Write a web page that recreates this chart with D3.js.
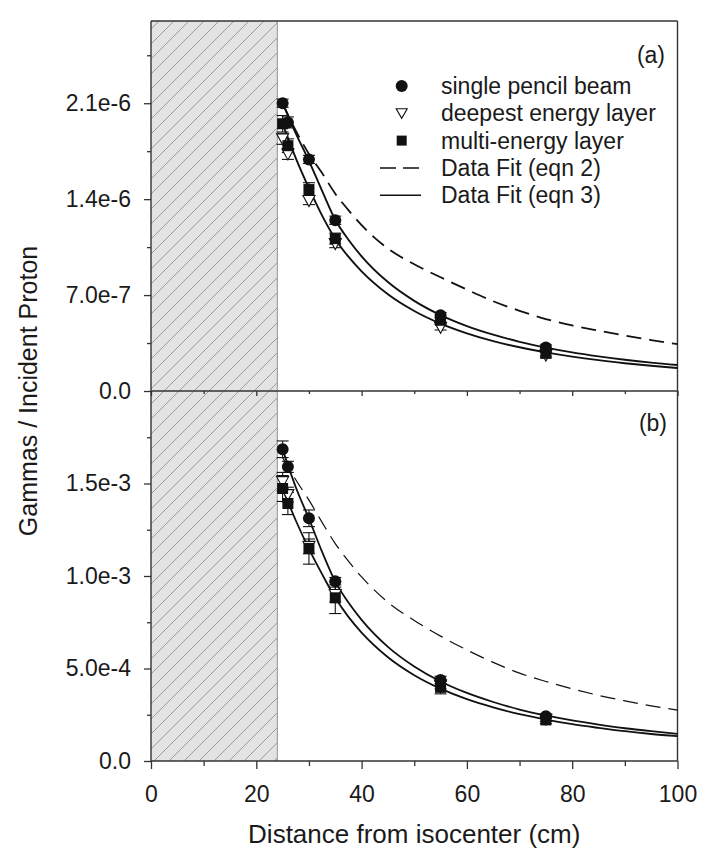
<!DOCTYPE html>
<html><head><meta charset="utf-8">
<script src="https://cdn.jsdelivr.net/npm/d3@7"></script>
<style>
body{margin:0;background:#fff}
text{font-family:"Liberation Sans",Arial,Helvetica,sans-serif;fill:#1a1a1a}
</style>
</head><body>
<svg id="chart" width="714" height="863"></svg>
<script>
// ---------------- DATA ----------------
const pointX = [25, 26, 30, 35, 55, 75];

// Panel (a): gammas per incident proton
const aSingle    = [2.10e-6, 1.96e-6, 1.69e-6, 1.246e-6, 0.553e-6, 0.317e-6];
const aSingleErr = [0.03e-6, 0.04e-6, 0.03e-6, 0.03e-6, 0.02e-6, 0.02e-6];
const aDeep      = [1.84e-6, 1.73e-6, 1.39e-6, 1.076e-6, 0.465e-6, 0.262e-6];
const aDeepErr   = [0.04e-6, 0.04e-6, 0.03e-6, 0.03e-6, 0.02e-6, 0.02e-6];
const aMulti     = [1.95e-6, 1.79e-6, 1.47e-6, 1.112e-6, 0.516e-6, 0.275e-6];
const aMultiErr  = [0.06e-6, 0.05e-6, 0.05e-6, 0.04e-6, 0.02e-6, 0.02e-6];

// Panel (b)
const bSingle    = [1.685e-3, 1.59e-3, 1.312e-3, 0.972e-3, 0.438e-3, 0.242e-3];
const bSingleErr = [0.045e-3, 0.03e-3, 0.045e-3, 0.02e-3, 0.02e-3, 0.012e-3];
const bDeep      = [1.51e-3, 1.44e-3, 1.16e-3, 0.90e-3, 0.41e-3, 0.226e-3];
const bDeepErr   = [0.05e-3, 0.04e-3, 0.04e-3, 0.04e-3, 0.02e-3, 0.012e-3];
const bMulti     = [1.473e-3, 1.392e-3, 1.149e-3, 0.882e-3, 0.398e-3, 0.222e-3];
const bMultiErr  = [0.07e-3, 0.06e-3, 0.085e-3, 0.085e-3, 0.035e-3, 0.02e-3];

// Fit curves
const fitX = [25, 27.5, 30, 32.5, 35, 37.5, 40, 45, 50, 55, 60, 65, 70, 75, 80, 85, 90, 95, 100];
const aFit2      = [2.10, 1.90, 1.73, 1.59, 1.44, 1.32, 1.21, 1.04, 0.925, 0.83, 0.74, 0.655, 0.585, 0.525, 0.478, 0.44, 0.405, 0.372, 0.342].map(v => v * 1e-6);
const aFit3Upper = [2.10, 1.88, 1.68, 1.46, 1.25, 1.104, 0.983, 0.795, 0.658, 0.554, 0.474, 0.411, 0.359, 0.317, 0.282, 0.253, 0.228, 0.207, 0.19].map(v => v * 1e-6);
const aFit3Lower = [1.95, 1.70, 1.48, 1.28, 1.11, 0.98, 0.873, 0.706, 0.584, 0.492, 0.421, 0.364, 0.319, 0.282, 0.251, 0.225, 0.203, 0.184, 0.168].map(v => v * 1e-6);
const bFit2      = [1.64, 1.52, 1.41, 1.29, 1.175, 1.08, 0.995, 0.858, 0.76, 0.675, 0.60, 0.533, 0.475, 0.43, 0.39, 0.355, 0.325, 0.298, 0.275].map(v => v * 1e-3);
const bFit3Upper = [1.685, 1.48, 1.31, 1.13, 0.97, 0.857, 0.763, 0.617, 0.511, 0.43, 0.368, 0.319, 0.278, 0.246, 0.219, 0.197, 0.177, 0.161, 0.147].map(v => v * 1e-3);
const bFit3Lower = [1.473, 1.30, 1.147, 1.01, 0.882, 0.779, 0.694, 0.561, 0.464, 0.391, 0.334, 0.29, 0.253, 0.224, 0.199, 0.179, 0.161, 0.146, 0.134].map(v => v * 1e-3);

const shadedX = [0, 24];

const xMajor = [0, 20, 40, 60, 80, 100];
const xMinor = [10, 30, 50, 70, 90];
const aYMajor = [0, 7e-7, 1.4e-6, 2.1e-6];
const aYLabels = ["0.0", "7.0e-7", "1.4e-6", "2.1e-6"];
const aYMinor = [3.5e-7, 1.05e-6, 1.75e-6, 2.45e-6];
const bYMajor = [0, 5e-4, 1e-3, 1.5e-3];
const bYLabels = ["0.0", "5.0e-4", "1.0e-3", "1.5e-3"];
const bYMinor = [2.5e-4, 7.5e-4, 1.25e-3, 1.75e-3];

const legendItems = ["single pencil beam", "deepest energy layer", "multi-energy layer", "Data Fit (eqn 2)", "Data Fit (eqn 3)"];

// ---------------- CHART ----------------
const svg = d3.select("#chart");
const FS = 23;      // tick labels, legend
const FT = 26;      // x axis title
const FY = 25;      // y axis title
const FONT = '"Liberation Sans",Arial,sans-serif';
const axisColor = "#333";

const x = d3.scaleLinear().domain([0, 100]).range([151, 677.5]);
const yA = d3.scaleLinear().domain([0, 2.7e-6]).range([391, 21]);
const yB = d3.scaleLinear().domain([0, 2.0e-3]).range([761, 391]);

// hatch pattern
const defs = svg.append("defs");
const pat = defs.append("pattern").attr("id", "hatch")
  .attr("patternUnits", "userSpaceOnUse").attr("width", 15).attr("height", 15);
pat.append("rect").attr("width", 15).attr("height", 15).attr("fill", "#e3e3e3");
pat.append("path").attr("d", "M0,15 L15,0 M-4,4 L4,-4 M11,19 L19,11")
  .attr("stroke", "#9c9c9c").attr("stroke-width", 1);

svg.append("rect")
  .attr("x", x(shadedX[0])).attr("y", yA.range()[1])
  .attr("width", x(shadedX[1]) - x(shadedX[0]))
  .attr("height", yB.range()[0] - yA.range()[1])
  .attr("fill", "url(#hatch)");
svg.append("line")
  .attr("x1", x(shadedX[1])).attr("x2", x(shadedX[1]))
  .attr("y1", yA.range()[1]).attr("y2", yB.range()[0])
  .attr("stroke", "#a0a0a0").attr("stroke-width", 1.2);

// axes helpers
function yAxis(scale, major, labels, minor) {
  const gMaj = svg.append("g").attr("transform", `translate(${x(0)},0)`)
    .call(d3.axisLeft(scale).tickValues(major).tickFormat((d, i) => labels[i])
      .tickSize(7).tickPadding(13).tickSizeOuter(0));
  gMaj.select(".domain").remove();
  gMaj.selectAll("line").attr("stroke", axisColor).attr("stroke-width", 1.3);
  gMaj.selectAll("text").attr("font-size", FS).attr("fill", "#1a1a1a").attr("font-family", FONT);
  const gMin = svg.append("g").attr("transform", `translate(${x(0)},0)`)
    .call(d3.axisLeft(scale).tickValues(minor).tickFormat("").tickSize(4).tickSizeOuter(0));
  gMin.select(".domain").remove();
  gMin.selectAll("line").attr("stroke", axisColor).attr("stroke-width", 1.3);
}
function xTicks(yPos, majLen, minLen, withLabels) {
  const g = svg.append("g").attr("transform", `translate(0,${yPos})`)
    .call(d3.axisBottom(x).tickValues(xMajor).tickFormat(withLabels ? d3.format("d") : "")
      .tickSize(majLen).tickPadding(17).tickSizeOuter(0));
  g.select(".domain").remove();
  g.selectAll("line").attr("stroke", axisColor).attr("stroke-width", 1.3);
  g.selectAll("text").attr("font-size", FS).attr("fill", "#1a1a1a").attr("font-family", FONT);
  const g2 = svg.append("g").attr("transform", `translate(0,${yPos})`)
    .call(d3.axisBottom(x).tickValues(xMinor).tickFormat("").tickSize(minLen).tickSizeOuter(0));
  g2.select(".domain").remove();
  g2.selectAll("line").attr("stroke", axisColor).attr("stroke-width", 1.3);
}

yAxis(yA, aYMajor, aYLabels, aYMinor);
yAxis(yB, bYMajor, bYLabels, bYMinor);
xTicks(yA(0), 5, 3, false);
xTicks(yB(0), 8, 5, true);

// frame lines
const frame = svg.append("g").attr("stroke", axisColor).attr("stroke-width", 1.4).attr("fill", "none");
frame.append("line").attr("x1", x(0)).attr("x2", x(100)).attr("y1", yA.range()[1]).attr("y2", yA.range()[1]);
frame.append("line").attr("x1", x(100)).attr("x2", x(100)).attr("y1", yA.range()[1]).attr("y2", yB(0));
frame.append("line").attr("x1", x(0)).attr("x2", x(0)).attr("y1", yA.range()[1]).attr("y2", yB(0));
frame.append("line").attr("x1", x(0)).attr("x2", x(100)).attr("y1", yA(0)).attr("y2", yA(0));
frame.append("line").attr("x1", x(0)).attr("x2", x(100)).attr("y1", yB(0)).attr("y2", yB(0));

// panel drawing
function drawPanel(y, fit2, fitU, fitL, single, singleErr, deep, deepErr, multi, multiErr, dashW, solidW) {
  const line = d3.line().x((d, i) => x(fitX[i])).y(d => y(d)).curve(d3.curveMonotoneX);
  const g = svg.append("g");
  g.append("path").attr("d", line(fit2)).attr("fill", "none").attr("stroke", "#111")
    .attr("stroke-width", dashW).attr("stroke-dasharray", "15,8");
  g.append("path").attr("d", line(fitU)).attr("fill", "none").attr("stroke", "#111").attr("stroke-width", solidW);
  g.append("path").attr("d", line(fitL)).attr("fill", "none").attr("stroke", "#111").attr("stroke-width", solidW);

  function errBars(vals, errs) {
    vals.forEach((v, i) => {
      const cx = x(pointX[i]);
      const y1 = y(v - errs[i]), y2 = y(v + errs[i]);
      g.append("line").attr("x1", cx).attr("x2", cx).attr("y1", y1).attr("y2", y2)
        .attr("stroke", "#111").attr("stroke-width", 1.1);
      [y1, y2].forEach(yy => g.append("line").attr("x1", cx - 6).attr("x2", cx + 6)
        .attr("y1", yy).attr("y2", yy).attr("stroke", "#111").attr("stroke-width", 1.1));
    });
  }
  errBars(deep, deepErr);
  errBars(multi, multiErr);
  errBars(single, singleErr);

  deep.forEach((v, i) => {
    g.append("path").attr("transform", `translate(${x(pointX[i])},${y(v)})`)
      .attr("d", "M-6,-5 L6,-5 L0,6 Z").attr("fill", "#fff").attr("stroke", "#111").attr("stroke-width", 1.1);
  });
  multi.forEach((v, i) => {
    g.append("rect").attr("x", x(pointX[i]) - 5.5).attr("y", y(v) - 5.5)
      .attr("width", 11).attr("height", 11).attr("fill", "#111");
  });
  single.forEach((v, i) => {
    g.append("circle").attr("cx", x(pointX[i])).attr("cy", y(v)).attr("r", 6).attr("fill", "#111");
  });
}

drawPanel(yA, aFit2, aFit3Upper, aFit3Lower, aSingle, aSingleErr, aDeep, aDeepErr, aMulti, aMultiErr, 1.8, 1.9);
drawPanel(yB, bFit2, bFit3Upper, bFit3Lower, bSingle, bSingleErr, bDeep, bDeepErr, bMulti, bMultiErr, 1.2, 1.8);

// panel labels
svg.append("text").attr("x", 665).attr("y", 55).attr("dy", "0.35em").attr("text-anchor", "end")
  .attr("font-size", FS).text("(a)");
svg.append("text").attr("x", 667).attr("y", 423).attr("dy", "0.35em").attr("text-anchor", "end")
  .attr("font-size", FS).text("(b)");

// legend
const lgX = 401.7, lgTextX = 441, lgY0 = 86, lgDY = 27.3;
const lg = svg.append("g");
legendItems.forEach((t, i) => {
  const yy = lgY0 + i * lgDY;
  lg.append("text").attr("x", lgTextX).attr("y", yy).attr("dy", "0.35em").attr("font-size", FS).text(t);
  if (i === 0) lg.append("circle").attr("cx", lgX).attr("cy", yy).attr("r", 6).attr("fill", "#111");
  if (i === 1) lg.append("path").attr("transform", `translate(${lgX},${yy})`)
    .attr("d", "M-5.5,-4.5 L5.5,-4.5 L0,5 Z").attr("fill", "#fff").attr("stroke", "#111").attr("stroke-width", 1.1);
  if (i === 2) lg.append("rect").attr("x", lgX - 5).attr("y", yy - 5).attr("width", 10).attr("height", 10).attr("fill", "#111");
  if (i === 3) lg.append("line").attr("x1", 380).attr("x2", 421).attr("y1", yy).attr("y2", yy)
    .attr("stroke", "#111").attr("stroke-width", 1.5).attr("stroke-dasharray", "16,7");
  if (i === 4) lg.append("line").attr("x1", 380).attr("x2", 421).attr("y1", yy).attr("y2", yy)
    .attr("stroke", "#111").attr("stroke-width", 1.5);
});

// axis titles
svg.append("text").attr("x", (x(0) + x(100)) / 2).attr("y", 843).attr("text-anchor", "middle")
  .attr("font-size", FT).text("Distance from isocenter (cm)");
svg.append("text").attr("transform", `translate(37,${(yA.range()[1] + yB(0)) / 2}) rotate(-90)`)
  .attr("text-anchor", "middle").attr("font-size", FY).text("Gammas / Incident Proton");
</script>
</body></html>
